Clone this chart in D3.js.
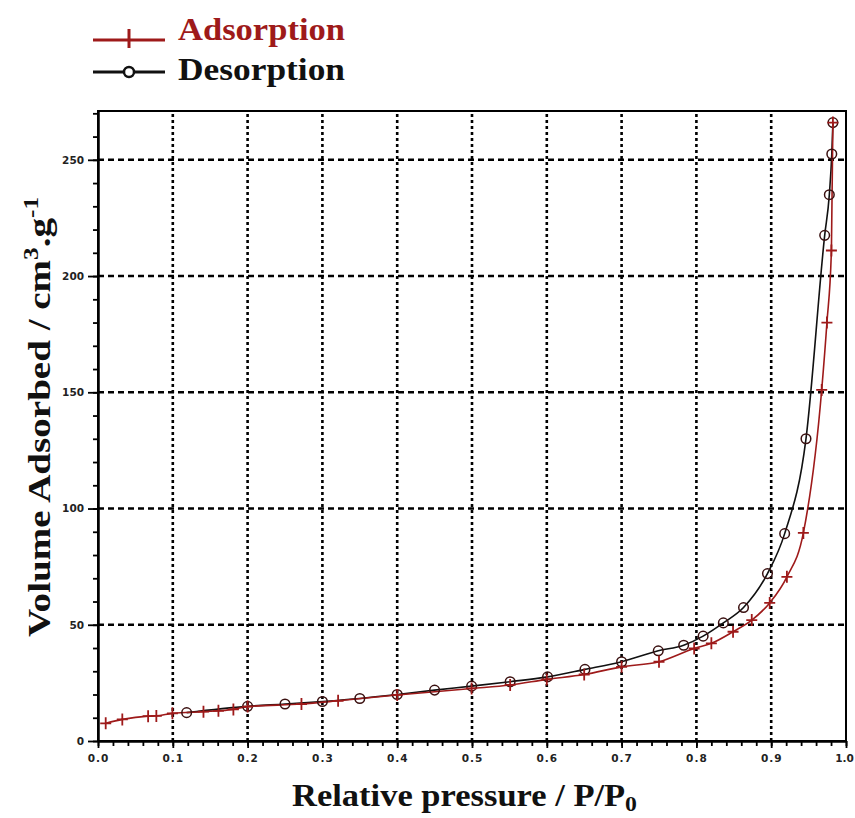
<!DOCTYPE html>
<html>
<head>
<meta charset="utf-8">
<script src="https://cdn.jsdelivr.net/npm/d3@7"></script>
<style>
  body { margin: 0; background: #fff; }
</style>
</head>
<body>
<svg id="chart" width="855" height="818"></svg>
<script>
// DATA
const adsorptionP = [0.0103, 0.0325, 0.067, 0.078, 0.0995, 0.141, 0.161, 0.181, 0.200, 0.272, 0.321, 0.400,
                     0.4995, 0.551, 0.600, 0.650, 0.700, 0.750, 0.797, 0.820, 0.849, 0.874, 0.898, 0.921,
                     0.943, 0.9675, 0.9745, 0.9805, 0.9825];
const adsorptionV = [7.6, 9.3, 10.7, 10.8, 11.9, 12.6, 13.0, 13.6, 14.8, 15.9, 17.3, 19.8,
                     22.6, 24.1, 26.5, 28.6, 31.9, 34.1, 39.8, 42.0, 47.0, 52.0, 59.4, 70.6,
                     89.5, 151, 180, 211, 266];
const desorptionP = [0.1185, 0.200, 0.250, 0.300, 0.350, 0.400, 0.450, 0.4995, 0.551, 0.601, 0.651, 0.700,
                     0.749, 0.783, 0.809, 0.836, 0.863, 0.895, 0.918, 0.9465, 0.9715, 0.9777, 0.981, 0.9825];
const desorptionV = [12.2, 14.9, 15.9, 17.0, 18.3, 20.0, 21.9, 23.6, 25.5, 27.6, 30.8, 34.1,
                     38.8, 41.2, 45.1, 50.8, 57.4, 72.0, 89.2, 130, 217.5, 235, 252.5, 266];
const seriesNames = ['Adsorption', 'Desorption'];
const xTickValues = [0, 0.1, 0.2, 0.3, 0.4, 0.5, 0.6, 0.7, 0.8, 0.9, 1.0];
const yTickValues = [0, 50, 100, 150, 200, 250];

const svg = d3.select('#chart');

// SCALES
const x = d3.scaleLinear().domain([0, 1]).range([98, 846]);
const y = d3.scaleLinear().domain([0, 271]).range([741, 111]);

const adsColor = '#9e1a1a';
const desColor = '#111';
const serif = 'Liberation Serif, Times New Roman, serif';

// GRIDLINES (dotted, at major ticks)
svg.append('g')
  .selectAll('line')
  .data(xTickValues.slice(1, -1))
  .join('line')
  .attr('x1', d => x(d)).attr('x2', d => x(d))
  .attr('y1', y.range()[0]).attr('y2', y.range()[1])
  .attr('stroke', '#000')
  .attr('stroke-width', 2.6)
  .attr('stroke-dasharray', '3,3');

svg.append('g')
  .selectAll('line')
  .data(yTickValues.slice(1))
  .join('line')
  .attr('x1', x.range()[0]).attr('x2', x.range()[1])
  .attr('y1', d => y(d)).attr('y2', d => y(d))
  .attr('stroke', '#000')
  .attr('stroke-width', 2.6)
  .attr('stroke-dasharray', '6,4');

// FRAME
svg.append('rect')
  .attr('x', x.range()[0]).attr('y', y.range()[1])
  .attr('width', x.range()[1] - x.range()[0])
  .attr('height', y.range()[0] - y.range()[1])
  .attr('fill', 'none')
  .attr('stroke', '#000')
  .attr('stroke-width', 2);

// X AXIS
const xMinor = d3.axisBottom(x).ticks(50).tickSize(5).tickFormat('').tickSizeOuter(0);
svg.append('g')
  .attr('class', 'x minor')
  .attr('transform', `translate(0,${y.range()[0]})`)
  .call(xMinor);

const xAxis = d3.axisBottom(x)
  .tickValues(xTickValues)
  .tickSize(7)
  .tickPadding(7)
  .tickFormat(d3.format('.1f'))
  .tickSizeOuter(0);
svg.append('g')
  .attr('class', 'x axis')
  .attr('transform', `translate(0,${y.range()[0]})`)
  .call(xAxis);

// Y AXIS
const yMinor = d3.axisLeft(y).tickValues(d3.range(0, 271, 10)).tickSize(5).tickFormat('').tickSizeOuter(0);
svg.append('g')
  .attr('class', 'y minor')
  .attr('transform', `translate(${x.range()[0]},0)`)
  .call(yMinor);

const yAxis = d3.axisLeft(y)
  .tickValues(yTickValues)
  .tickSize(10)
  .tickPadding(4)
  .tickSizeOuter(0);
svg.append('g')
  .attr('class', 'y axis')
  .attr('transform', `translate(${x.range()[0]},0)`)
  .call(yAxis);

svg.selectAll('.domain').attr('stroke', '#000').attr('stroke-width', 2);
svg.selectAll('.tick line').attr('stroke', '#000').attr('stroke-width', 1.8);
svg.selectAll('.axis .tick text')
  .attr('font-family', 'DejaVu Sans, sans-serif')
  .attr('font-weight', 'bold')
  .attr('font-size', 10.5)
  .attr('fill', '#222');
svg.selectAll('.x.axis .tick text')
  .attr('letter-spacing', d => d === 1 ? 0 : 1)
  .attr('dx', d => d === 1 ? -2 : 0);

// LINES
const line = d3.line()
  .x(d => x(d[0]))
  .y(d => y(d[1]))
  .curve(d3.curveMonotoneX);

const adsData = adsorptionP.map((p, i) => [p, adsorptionV[i]]);
const desData = desorptionP.map((p, i) => [p, desorptionV[i]]);

svg.append('path')
  .datum(desData)
  .attr('d', line)
  .attr('fill', 'none')
  .attr('stroke', desColor)
  .attr('stroke-width', 1.6);

svg.append('path')
  .datum(adsData)
  .attr('d', line)
  .attr('fill', 'none')
  .attr('stroke', adsColor)
  .attr('stroke-width', 1.6);

// MARKERS
svg.append('g')
  .selectAll('circle')
  .data(desData)
  .join('circle')
  .attr('cx', d => x(d[0]))
  .attr('cy', d => y(d[1]))
  .attr('r', 4.8)
  .attr('fill', 'none')
  .attr('stroke', '#3a1010')
  .attr('stroke-width', 1.5);

svg.append('g')
  .selectAll('path')
  .data(adsData)
  .join('path')
  .attr('d', d => `M${x(d[0]) - 5.5},${y(d[1])}h11M${x(d[0])},${y(d[1]) - 6}v12`)
  .attr('stroke', adsColor)
  .attr('stroke-width', 1.8);

// AXIS TITLES
const xTitle = svg.append('text')
  .attr('x', 292)
  .attr('y', 806)
  .attr('font-family', serif)
  .attr('font-weight', 'bold')
  .attr('font-size', 32)
  .attr('textLength', 345)
  .attr('lengthAdjust', 'spacingAndGlyphs')
  .attr('fill', '#111');
xTitle.append('tspan').text('Relative pressure  / P/P');
xTitle.append('tspan').attr('font-size', 22).attr('dy', 5).text('0');

const yTitle = svg.append('text')
  .attr('transform', 'translate(50,637) rotate(-90)')
  .attr('font-family', serif)
  .attr('font-weight', 'bold')
  .attr('font-size', 31)
  .attr('textLength', 440)
  .attr('lengthAdjust', 'spacingAndGlyphs')
  .attr('fill', '#111');
yTitle.append('tspan').text('Volume  Adsorbed / cm');
yTitle.append('tspan').attr('font-size', 20).attr('dy', -12).text('3');
yTitle.append('tspan').attr('dy', 12).text('.g');
yTitle.append('tspan').attr('font-size', 20).attr('dy', -12).text('-1');

// LEGEND
const legend = svg.append('g');
const legendItems = [
  {name: seriesNames[0], color: adsColor, textColor: '#9e1a1a', yPos: 40, marker: 'cross'},
  {name: seriesNames[1], color: desColor, textColor: '#111', yPos: 72, marker: 'circle'}
];
legendItems.forEach(item => {
  legend.append('line')
    .attr('x1', 93).attr('x2', 165)
    .attr('y1', item.yPos).attr('y2', item.yPos)
    .attr('stroke', item.color)
    .attr('stroke-width', 3);
  if (item.marker === 'cross') {
    legend.append('line')
      .attr('x1', 129).attr('x2', 129)
      .attr('y1', item.yPos - 11).attr('y2', item.yPos + 8)
      .attr('stroke', item.color)
      .attr('stroke-width', 3);
  } else {
    legend.append('circle')
      .attr('cx', 129).attr('cy', item.yPos)
      .attr('r', 5)
      .attr('fill', '#fff')
      .attr('stroke', item.color)
      .attr('stroke-width', 2.5);
  }
  legend.append('text')
    .attr('x', 178)
    .attr('y', item.yPos + (item.marker === 'cross' ? 0 : 8))
    .attr('font-family', serif)
    .attr('font-weight', 'bold')
    .attr('font-size', 31)
    .attr('textLength', 167)
    .attr('lengthAdjust', 'spacingAndGlyphs')
    .attr('fill', item.textColor)
    .text(item.name);
});
</script>
</body>
</html>
